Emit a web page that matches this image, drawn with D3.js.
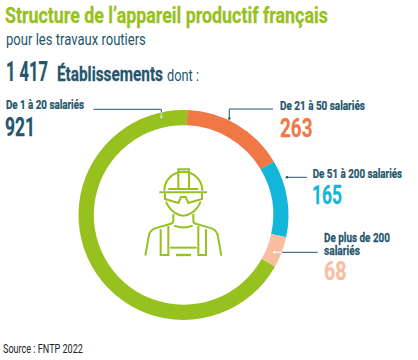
<!DOCTYPE html>
<html>
<head>
<meta charset="utf-8">
<script src="https://cdn.jsdelivr.net/npm/d3@7"></script>
<style>
  html, body { margin: 0; padding: 0; background: #fff; }
  svg { display: block; }
  text { font-family: "Liberation Sans Narrow", "Roboto", sans-serif; }
</style>
</head>
<body>
<svg id="chart" width="418" height="360"></svg>
<script>
const width = 418;
const height = 360;

// ring order, clockwise from the top
const categories = ["De 21 à 50 salariés", "De 51 à 200 salariés", "De plus de 200 salariés", "De 1 à 20 salariés"];
const counts = [263, 165, 68, 921];
// share of the ring in % as measured on the picture (it is not exactly the printed counts)
const ringShares = [15.9, 11.9, 4.8, 67.4];
const colors = ["#f07845", "#13b5d8", "#fabd9f", "#97c11f"];

const dark = "#24566c";
const green = "#97c11f";

const svg = d3.select("svg#chart");

// ring
const center = { x: 183.5, y: 215 };
const startAngle = 2.1 * Math.PI / 180;

const pie = d3.pie()
  .sort(null)
  .startAngle(startAngle)
  .endAngle(startAngle + 2 * Math.PI);

const arc = d3.arc().innerRadius(89.7).outerRadius(105);

svg.append("g")
  .attr("transform", translate(center.x, center.y))
  .selectAll("path")
  .data(pie(ringShares))
  .join("path")
  .attr("d", arc)
  .attr("fill", (d, i) => colors[i]);

// headings
addText("Structure de l’appareil productif français", 5, 22.7, 22, "bold", green, 323);
addText("pour les travaux routiers", 6, 45, 16, "normal", dark, 140);
addText("1 417", 6, 81, 27, "bold", dark, 42);
addText("Établissements", 57, 81, 21, "bold", dark, 106);
addText("dont :", 167, 81, 16, "normal", dark, 32);

// labels
addText(categories[3], 6, 109.3, 12, "bold", dark, 78);
addText(String(counts[3]), 5, 136, 26, "bold", dark, 30);
addText(categories[0], 280, 110, 12, "bold", dark, 85);
addText(String(counts[0]), 280, 136.7, 26, "bold", colors[0], 32.5);
addText(categories[1], 312.7, 177.7, 12, "bold", dark, 89.5);
addText(String(counts[1]), 312, 204.3, 26, "bold", colors[1], 30);
addText("De plus de 200", 324, 241.7, 12, "bold", dark, 66);
addText("salariés", 324, 255, 12, "bold", dark, 36);
addText(String(counts[2]), 324, 280, 26, "bold", colors[2], 22.5);

addText("Source : FNTP 2022", 3, 352.7, 12, "normal", "#222", 80);

// leader lines
addLeader("M93.3 109.3H161.3V112.3", dark);
addLeader("M161.3 112.3V116", "#bfe0e8");
svg.append("circle").attr("cx", 161.3).attr("cy", 117).attr("r", 1.3).attr("fill", "#bfe0e8");
addLeader("M273 109H229.3V118", dark);
svg.append("circle").attr("cx", 229.3).attr("cy", 118.5).attr("r", 1.3).attr("fill", dark);
addLeader("M307 177.3H287", dark);
svg.append("circle").attr("cx", 287).attr("cy", 177.3).attr("r", 1.3).attr("fill", dark);
addLeader("M317.7 252.3H281.8", dark);
addLeader("M281.8 252.3H275", "#fff");
svg.append("circle").attr("cx", 274.5).attr("cy", 252.3).attr("r", 1.3).attr("fill", "#fff");

// worker icon, outlined from the picture at 3x
const icon = svg.append("g")
  .attr("transform", translate(70, 100) + " scale(0.3333)")
  .attr("fill", "none")
  .attr("stroke", green)
  .attr("stroke-width", 6);

[
  "M283 272A57 57 0 0 1 397 272",
  "M268 277H411",
  "M325 268V208H357V268",
  "M295 267H385",
  "M285 280V297L325 309L333 291H347L355 309L396 297V280",
  "M288 305C300 335 325 347 340 347C355 347 380 335 392 305",
  "M310 342V362Q310 370 300 372L255 385Q238 392 236 410L226 467",
  "M370 342V362Q370 370 380 372L425 385Q442 392 444 410L454 467",
  "M312 377Q340 388 368 377",
  "M272 388V465H295V378",
  "M408 388V465H385V378",
  "M300 443H380"
].forEach(d => icon.append("path").attr("d", d));

icon.append("path").attr("d", "M318 465H363").attr("stroke-width", 7);

/*
 * adds one line of text, scaled sideways to the width it has on the picture
 */
function addText(str, x, y, size, weight, fill, len) {
  const t = svg.append("text")
    .attr("font-size", size)
    .attr("font-weight", weight)
    .attr("fill", fill)
    .text(str);
  const sx = len / t.node().getComputedTextLength();
  t.attr("transform", translate(x, y) + " scale(" + sx + ",1)");
  // the picture's typeface is heavier than the installed bolds
  if (weight === "bold") t.attr("stroke", fill).attr("stroke-width", 0.25);
  return t;
}

function addLeader(d, stroke) {
  svg.append("path")
    .attr("d", d)
    .attr("fill", "none")
    .attr("stroke", stroke)
    .attr("stroke-width", 1);
}

/*
 * returns a translate string for the transform attribute
 */
function translate(x, y) {
  return "translate(" + String(x) + "," + String(y) + ")";
}
</script>
</body>
</html>
